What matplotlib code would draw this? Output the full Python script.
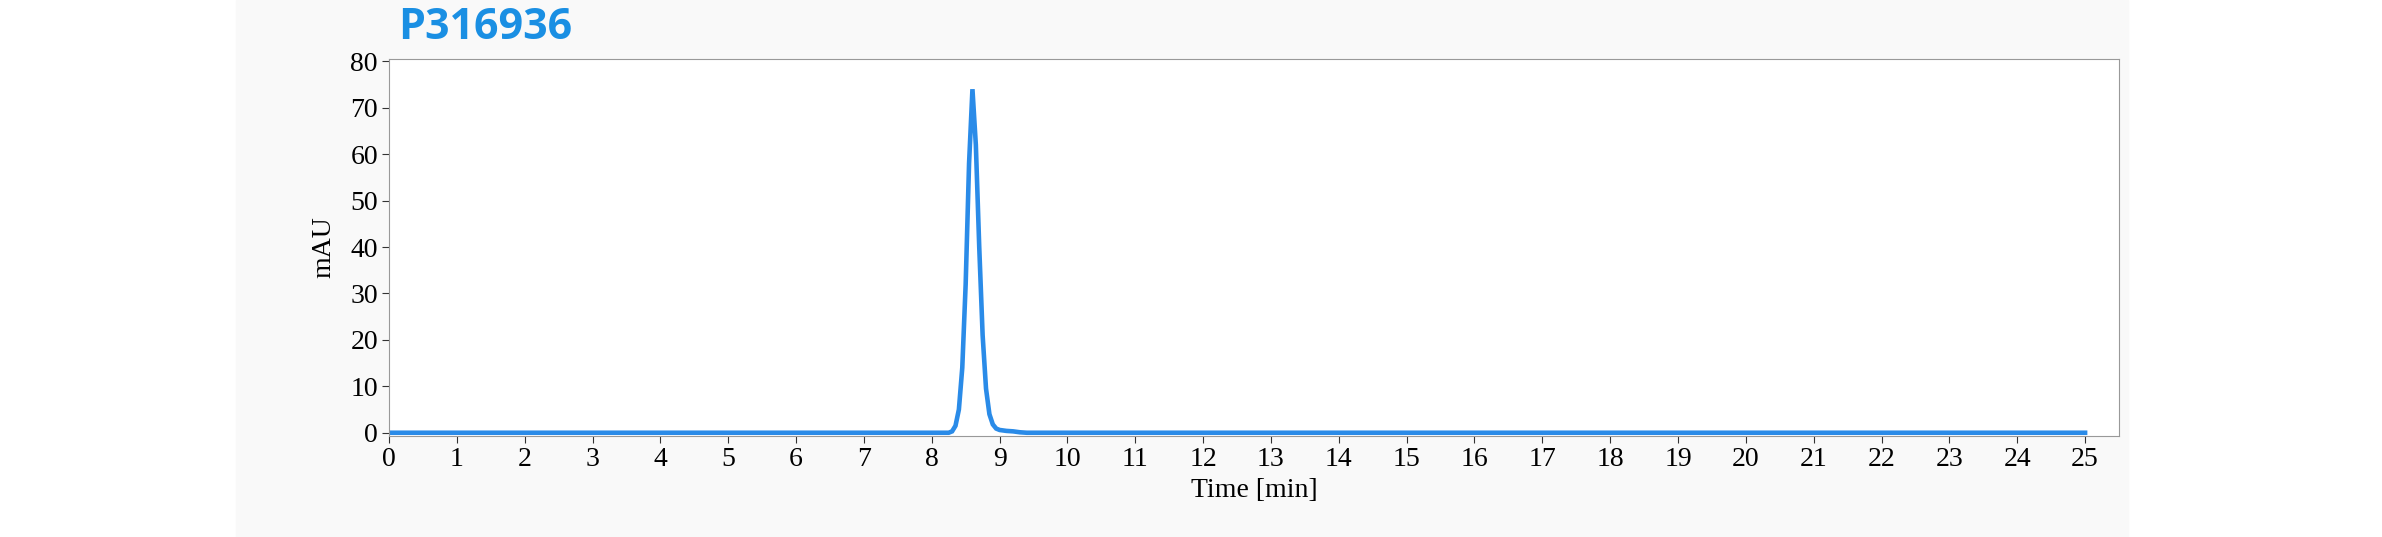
import matplotlib
matplotlib.use("Agg")
import matplotlib.pyplot as plt
from matplotlib.patches import Rectangle

time_min = [0, 8.0, 8.25, 8.3, 8.35, 8.4, 8.45, 8.5, 8.55, 8.6, 8.65, 8.7, 8.75, 8.8,
            8.85, 8.9, 8.95, 9.0, 9.1, 9.2, 9.3, 9.4, 25]
mau = [0, 0, 0, 0.3, 1.5, 5, 14, 32, 58, 74, 62, 40, 21, 9.5,
       4, 1.8, 0.9, 0.6, 0.4, 0.3, 0.1, 0, 0]
xticks = list(range(0, 26))
yticks = list(range(0, 81, 10))

fig = plt.figure(figsize=(23.82, 5.37), dpi=100)
fig.patches.append(Rectangle((236/2382, 0), (2128-236)/2382, 1, transform=fig.transFigure,
                             color="#f9f9f9", zorder=-10))
ax = fig.add_axes([389/2382, 1-436/537, (2119-389)/2382, (436-59)/537])
ax.plot(time_min, mau, color="#2a8be8", lw=3.3, solid_joinstyle="miter")
ax.set_xlim(0, 25.5)
ax.set_ylim(-0.7, 80.5)
ax.set_xticks(xticks)
ax.set_yticks(yticks)
for s in ax.spines.values():
    s.set_color("#999999")
ax.tick_params(labelsize=20, color="#333333", length=5, pad=3)
for lab in ax.get_xticklabels() + ax.get_yticklabels():
    lab.set_family("Liberation Serif")
ax.set_xlabel("Time [min]", family="Liberation Serif", fontsize=20, labelpad=4)
ax.set_ylabel("mAU", family="Liberation Serif", fontsize=20, labelpad=10)
fig.text(398/2382, 1-28/537, "P316936", color="#1a8fe3", fontsize=31, fontweight="bold",
         family="Open Sans", va="center", ha="left")
fig.savefig("out.png", dpi=100)
